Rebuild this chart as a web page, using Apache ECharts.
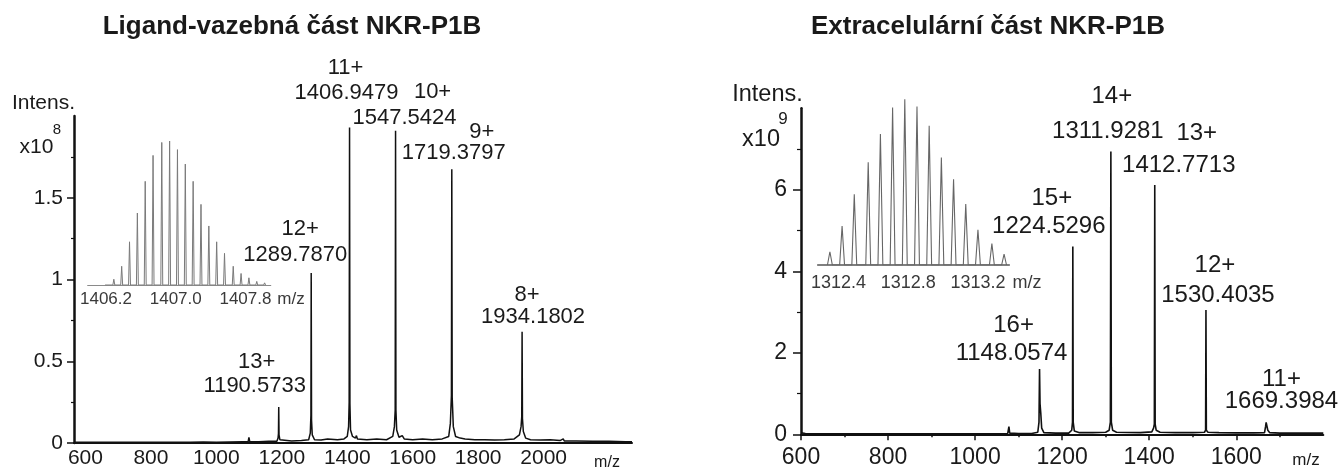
<!DOCTYPE html>
<html><head><meta charset="utf-8">
<script src="https://cdn.jsdelivr.net/npm/echarts@6/dist/echarts.min.js"></script>
<style>html,body{margin:0;padding:0;background:#fff}#c{width:1341px;height:472px}</style>
</head><body><div id="c"></div>
<script>
// ---------------- DATA ----------------
const leftTitle = 'Ligand-vazebná část NKR-P1B';
const rightTitle = 'Extracelulární část NKR-P1B';

// Left main spectrum: [m/z, intensity x1e8]
const leftSpectrum = [
 [565,0.004],[600,0.005],[640,0.004],[680,0.005],[720,0.004],[760,0.005],[800,0.005],[840,0.004],[880,0.005],[920,0.005],
 [960,0.006],[1000,0.005],[1040,0.006],[1080,0.007],[1097,0.007],[1099.5,0.035],[1102,0.008],[1130,0.008],[1160,0.01],
 [1185,0.01],[1188.5,0.03],[1189.8,0.06],[1190.57,0.22],[1191.5,0.05],[1194,0.02],[1200,0.012],[1230,0.012],[1260,0.015],
 [1282,0.02],[1287,0.06],[1288.9,0.17],[1289.79,1.04],[1290.8,0.14],[1293,0.05],[1300,0.02],[1320,0.018],[1340,0.025],
 [1343,0.018],[1370,0.02],[1390,0.025],[1400,0.04],[1404,0.1],[1405.8,0.25],[1406.95,1.93],[1408.1,0.24],[1410,0.08],
 [1416,0.04],[1425,0.03],[1428,0.045],[1431,0.025],[1460,0.02],[1490,0.025],[1520,0.02],[1539,0.04],[1544,0.1],
 [1546.4,0.2],[1547.54,1.91],[1548.7,0.2],[1551,0.08],[1558,0.035],[1568,0.045],[1574,0.025],[1600,0.02],[1630,0.025],
 [1660,0.02],[1690,0.025],[1710,0.04],[1715,0.12],[1718.2,0.29],[1719.38,1.675],[1720.6,0.28],[1724,0.1],[1731,0.04],
 [1745,0.03],[1760,0.025],[1790,0.02],[1820,0.02],[1850,0.018],[1880,0.02],[1910,0.025],[1926,0.05],[1931,0.1],
 [1933.1,0.16],[1934.18,0.68],[1935.3,0.15],[1938,0.07],[1945,0.03],[1960,0.02],[1990,0.018],[2020,0.02],[2050,0.015],
 [2060,0.025],[2063,0.012],[2100,0.012],[2150,0.01],[2200,0.01],[2250,0.008],[2270,0.008]
];
// Right main spectrum: [m/z, intensity x1e9]
const rightSpectrum = [
 [600,0.04],[610,0.02],[650,0.015],[700,0.015],[750,0.012],[800,0.012],[850,0.012],[900,0.012],[950,0.015],[1000,0.015],
 [1050,0.015],[1075,0.02],[1077.7,0.19],[1079.5,0.03],[1100,0.02],[1130,0.02],[1144,0.05],[1146.8,0.3],[1148.06,1.6],
 [1149.2,0.75],[1151,0.5],[1153,0.15],[1158,0.04],[1185,0.03],[1188,0.06],[1191,0.03],[1215,0.03],[1222,0.1],
 [1223.8,0.3],[1224.53,4.61],[1225.4,0.3],[1228,0.08],[1240,0.04],[1270,0.04],[1300,0.05],[1308,0.1],[1310.8,0.3],
 [1311.93,6.94],[1313,0.3],[1316,0.1],[1325,0.05],[1350,0.045],[1380,0.04],[1406,0.06],[1410,0.15],[1411.8,0.25],
 [1412.77,6.12],[1413.7,0.25],[1416,0.1],[1425,0.05],[1460,0.04],[1500,0.04],[1527,0.05],[1529.6,0.1],[1530.4,3.05],
 [1531.3,0.1],[1535,0.05],[1560,0.04],[1600,0.035],[1640,0.035],[1665,0.04],[1667.5,0.2],[1668.7,0.29],[1669.4,0.31],
 [1670.5,0.28],[1672.5,0.1],[1677,0.04],[1700,0.03],[1750,0.03],[1800,0.03]
];

// Peak annotations: [charge, m/z text, peak m/z, peak intensity]
const leftPeaks = [
 ['13+','1190.5733',1190.57,0.22],
 ['12+','1289.7870',1289.79,1.04],
 ['11+','1406.9479',1406.95,1.93],
 ['10+','1547.5424',1547.54,1.91],
 ['9+','1719.3797',1719.38,1.675],
 ['8+','1934.1802',1934.18,0.68]
];
const rightPeaks = [
 ['16+','1148.0574',1148.06,1.6],
 ['15+','1224.5296',1224.53,4.61],
 ['14+','1311.9281',1311.93,6.94],
 ['13+','1412.7713',1412.77,6.12],
 ['12+','1530.4035',1530.4,3.05],
 ['11+','1669.3984',1669.4,0.31]
];

// Isotope insets: m/z and relative intensity (%)
const leftIsoMz = [1406.20,1406.29,1406.38,1406.47,1406.56,1406.65,1406.74,1406.84,1406.93,1407.02,1407.11,
 1407.20,1407.29,1407.38,1407.47,1407.56,1407.66,1407.75,1407.84,1407.93,1408.02];
const leftIsoRel = [1,4,13,30,50,72,90,99,100,94,84,72,56,41,30,22,13,8,5,2.5,1.5];
const rightIsoMz = [1312.35,1312.42,1312.49,1312.57,1312.64,1312.71,1312.78,1312.85,1312.92,1312.99,1313.06,
 1313.13,1313.20,1313.28,1313.35];
const rightIsoRel = [8,23.5,42.7,62,79,95,100,95.6,84,64.8,51.7,36.8,21.3,13,6.6];

// Tick labels
const leftXTicks = [600,800,1000,1200,1400,1600,1800,2000];
const leftYTicks = [0,0.5,1,1.5];
const rightXTicks = [600,800,1000,1200,1400,1600];
const rightYTicks = [0,2,4,6];
const leftInsetTicks = [1406.2,1407.0,1407.8];
const rightInsetTicks = [1312.4,1312.8,1313.2];

// ---------------- STYLE / LAYOUT ----------------
const FONT = "'Liberation Sans', Arial, Helvetica, sans-serif";
const INK = '#1a1a1a';
// label centre offsets (px) relative to the peak apex: [charge line, m/z line]
const leftLabelOffsets = [
 [[-22,-45],[-24,-21]], [[-11,-44],[-16,-18]], [[-4,-60],[-3,-35]],
 [[37,-39],[9,-13]], [[30,-37],[2,-16]], [[5,-37],[11,-15]]
];
const rightLabelOffsets = [
 [[-26,-44],[-28,-16]], [[-21,-48],[-24,-20]], [[1,-55],[-3,-20]],
 [[42,-52],[24,-20]], [[9,-45],[12,-15]], [[15,-42],[15,-20]]
];
const leftIsoHalfWidth = 0.011;
const rightIsoHalfWidth = 0.014;
const plain = (v) => String(v);

function isoProfile(mz, rel, hw) {
  const pts = [];
  mz.forEach((m, i) => { pts.push([m - hw, 0], [m, rel[i]], [m + hw, 0]); });
  return pts;
}
function peakLabels(peaks, offsets, size) {
  const out = [];
  peaks.forEach((p, i) => {
    const base = {show:true, position:'inside', fontSize:size, color:INK, fontFamily:FONT};
    out.push({coord:[p[2], p[3]], label:Object.assign({}, base, {offset:offsets[i][0], formatter:p[0]})});
    out.push({coord:[p[2], p[3]], label:Object.assign({}, base, {offset:offsets[i][1], formatter:p[1]})});
  });
  return out;
}
function txt(text, x, y, size, opts) {
  return {type:'text', x:x, y:y, silent:true,
    style:Object.assign({text:text, fontSize:size, fontFamily:FONT, fill:INK, align:'center', verticalAlign:'middle'}, opts || {})};
}

const chart = echarts.init(document.getElementById('c'), null, {renderer:'canvas'});
const axisLineStyle = (w) => ({show:true, onZero:true, lineStyle:{color:'#111', width:w}});

chart.setOption({
  animation:false,
  backgroundColor:'#fff',
  grid:[
    {left:74, top:116, width:558, height:327, containLabel:false, outerBoundsMode:'none'},
    {left:87.7, top:141, width:183, height:144, containLabel:false, outerBoundsMode:'none'},
    {left:801, top:108.3, width:522.3, height:326, containLabel:false, outerBoundsMode:'none'},
    {left:817.7, top:99.3, width:191.6, height:165.7, containLabel:false, outerBoundsMode:'none'}
  ],
  xAxis:[
    {gridIndex:0, type:'value', min:565, max:2270, axisLine:axisLineStyle(2), axisTick:{show:false},
     splitLine:{show:false},
     axisLabel:{customValues:leftXTicks, formatter:plain, margin:5, fontSize:21, color:INK, fontFamily:FONT, hideOverlap:false}},
    {gridIndex:1, type:'value', min:1405.99, max:1408.09, axisLine:{show:true, lineStyle:{color:'#8a8a8a', width:1.2}},
     axisTick:{show:false}, splitLine:{show:false},
     axisLabel:{customValues:leftInsetTicks, formatter:(v)=>v.toFixed(1), margin:6, fontSize:17, color:'#3a3a3a', fontFamily:FONT}},
    {gridIndex:2, type:'value', min:600, max:1800, interval:200, axisLine:axisLineStyle(2),
     axisTick:{show:true, length:6, customValues:rightXTicks, lineStyle:{color:'#111', width:1.5}},
     minorTick:{show:true, splitNumber:2, length:3, lineStyle:{color:'#111', width:1.5}},
     splitLine:{show:false},
     axisLabel:{customValues:rightXTicks, formatter:plain, margin:12, fontSize:23, color:INK, fontFamily:FONT, hideOverlap:false}},
    {gridIndex:3, type:'value', min:1312.28, max:1313.38, axisLine:{show:true, lineStyle:{color:'#555', width:1.5}},
     axisTick:{show:false}, splitLine:{show:false},
     axisLabel:{customValues:rightInsetTicks, formatter:(v)=>v.toFixed(1), margin:9, fontSize:18, color:'#3a3a3a', fontFamily:FONT}}
  ],
  yAxis:[
    {gridIndex:0, type:'value', min:0, max:2, interval:0.5, axisLine:axisLineStyle(2.5),
     axisTick:{show:true, length:7, customValues:leftYTicks, lineStyle:{color:'#111', width:1.5}},
     minorTick:{show:true, splitNumber:2, length:3, lineStyle:{color:'#111', width:1.2}},
     splitLine:{show:false},
     axisLabel:{customValues:leftYTicks, formatter:plain, margin:11, fontSize:21, color:INK, fontFamily:FONT}},
    {gridIndex:1, type:'value', min:0, max:100, show:false},
    {gridIndex:2, type:'value', min:0, max:8, interval:2, axisLine:axisLineStyle(2.5),
     axisTick:{show:true, length:8, customValues:rightYTicks, lineStyle:{color:'#111', width:1.5}},
     minorTick:{show:true, splitNumber:2, length:4, lineStyle:{color:'#111', width:1.2}},
     splitLine:{show:false},
     axisLabel:{customValues:rightYTicks, formatter:plain, margin:14, fontSize:23, color:INK, fontFamily:FONT}},
    {gridIndex:3, type:'value', min:0, max:100, show:false}
  ],
  series:[
    {type:'line', xAxisIndex:0, yAxisIndex:0, data:leftSpectrum, symbol:'none', silent:true,
     lineStyle:{color:'#111', width:1.5},
     markPoint:{symbol:'circle', symbolSize:1, silent:true, itemStyle:{color:'rgba(0,0,0,0)'},
       data:peakLabels(leftPeaks, leftLabelOffsets, 22)}},
    {type:'line', xAxisIndex:1, yAxisIndex:1, data:isoProfile(leftIsoMz, leftIsoRel, leftIsoHalfWidth),
     symbol:'none', silent:true, lineStyle:{color:'#7a7a7a', width:1}},
    {type:'line', xAxisIndex:2, yAxisIndex:2, data:rightSpectrum, symbol:'none', silent:true,
     lineStyle:{color:'#111', width:1.6},
     markPoint:{symbol:'circle', symbolSize:1, silent:true, itemStyle:{color:'rgba(0,0,0,0)'},
       data:peakLabels(rightPeaks, rightLabelOffsets, 24)}},
    {type:'line', xAxisIndex:3, yAxisIndex:3, data:isoProfile(rightIsoMz, rightIsoRel, rightIsoHalfWidth),
     symbol:'none', silent:true, lineStyle:{color:'#666', width:1.1}}
  ],
  graphic:[
    txt(leftTitle, 292, 27, 26, {fontWeight:'bold'}),
    txt(rightTitle, 988, 27, 26, {fontWeight:'bold'}),
    txt('Intens.', 43.5, 103, 21),
    txt('x10', 36.5, 147, 21),
    txt('8', 57, 130, 15),
    txt('Intens.', 767.5, 95, 23.5),
    txt('x10', 761, 140, 23.5),
    txt('9', 783, 119, 17),
    txt('m/z', 607, 463, 16),
    txt('m/z', 1306, 460, 17),
    txt('m/z', 291, 299, 17, {fill:'#3a3a3a'}),
    txt('m/z', 1027, 283, 18, {fill:'#3a3a3a'})
  ]
});
</script></body></html>
